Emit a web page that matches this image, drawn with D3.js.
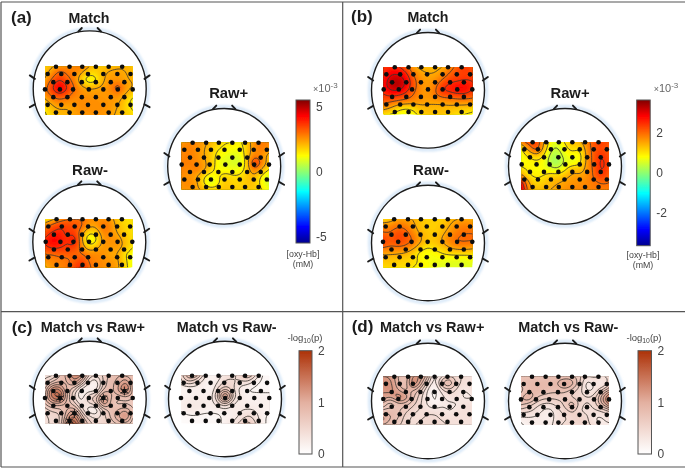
<!DOCTYPE html>
<html>
<head>
<meta charset="utf-8">
<script src="https://cdn.jsdelivr.net/npm/d3@7"></script>
<style>
  html, body { margin: 0; padding: 0; background: #fff; }
  text { font-family: "Liberation Sans", Arial, sans-serif; }
</style>
</head>
<body>
<svg id="fig" width="685" height="470"></svg>
<script>
// value grids, 8 rows by 13 columns
var aMatch = [
  [1.9,2.2,2.6,2.6,2.7,2.9,2.2,1.9,2.0,2.1,2.2,2.2,2.0],
  [2.0,2.6,3.4,2.9,2.8,2.2,1.6,1.7,2.2,2.4,2.4,2.3,2.1],
  [2.4,3.2,3.9,3.2,2.8,1.6,0.9,1.2,2.3,2.5,2.5,2.3,2.2],
  [2.8,3.8,5.0,3.9,3.0,2.5,2.2,2.3,2.4,2.7,3.7,2.5,2.3],
  [2.7,3.3,3.7,3.3,2.8,2.6,2.5,2.5,2.5,2.5,2.7,2.2,1.8],
  [2.0,2.5,2.8,2.6,2.5,2.7,2.6,2.6,2.5,2.5,2.4,1.8,1.2],
  [1.6,2.1,2.3,2.2,2.4,2.7,2.6,2.6,2.6,2.5,2.2,1.8,1.4],
  [1.4,1.9,2.1,2.1,2.4,2.5,2.5,2.6,2.5,2.4,2.1,1.9,1.7]
];
var aRawPlus = [
  [2.5,2.7,2.7,2.4,2.1,1.8,1.5,1.5,1.3,1.9,2.7,2.9,2.7],
  [2.7,2.8,2.6,2.3,1.9,1.5,1.3,1.2,1.1,1.9,2.6,2.9,2.5],
  [2.7,2.8,2.6,2.3,1.9,1.2,1.1,0.8,0.9,1.9,2.8,2.5,2.0],
  [2.8,2.8,2.7,2.4,2.0,1.1,0.8,0.9,0.6,1.8,4.3,2.8,2.0],
  [2.8,2.6,3.0,2.5,1.9,1.1,1.2,1.0,1.1,1.8,3.0,2.2,1.6],
  [2.6,2.5,2.3,1.6,1.0,1.5,1.8,1.6,1.6,1.9,2.2,1.3,0.7],
  [2.6,2.7,2.5,1.4,0.5,1.3,2.0,1.7,1.7,2.0,2.0,1.2,0.7],
  [2.5,2.6,2.4,2.1,1.7,1.9,2.0,1.9,1.8,1.9,1.9,1.5,1.1]
];
var aRawMinus = [
  [1.6,2.2,2.7,3.0,3.0,3.0,2.6,2.5,2.6,2.5,1.9,1.6,1.6],
  [3.0,3.4,3.8,3.6,3.4,3.2,2.4,2.4,3.2,2.7,2.0,1.7,1.6],
  [3.4,3.9,4.0,3.5,3.7,2.4,1.4,1.6,2.8,2.6,2.2,1.8,1.6],
  [4.0,4.6,4.2,3.7,4.5,2.2,0.7,1.2,2.6,2.6,2.6,2.0,1.7],
  [3.7,4.1,3.9,3.6,3.7,2.7,1.6,2.0,2.6,2.4,2.6,2.1,1.6],
  [3.0,3.0,3.2,3.3,3.0,3.0,2.7,2.7,2.6,2.2,2.3,1.4,1.2],
  [2.6,2.7,2.8,2.8,3.2,3.6,2.9,2.7,2.6,2.5,2.4,1.6,1.1],
  [2.2,2.6,2.7,2.9,3.5,4.0,3.0,2.8,2.6,2.6,2.4,1.7,1.1]
];
var bMatch = [
  [2.5,2.6,2.6,2.2,1.6,1.4,1.4,1.4,1.5,1.8,2.2,2.5,2.2],
  [2.6,3.0,3.0,2.7,1.9,1.6,1.5,1.5,1.7,2.1,2.3,2.4,2.3],
  [2.8,3.3,3.4,3.0,2.2,1.7,1.6,1.7,2.1,2.4,2.4,2.5,2.5],
  [2.8,3.3,3.4,2.9,2.2,1.7,1.6,1.9,2.6,2.7,3.0,3.0,2.6],
  [2.5,2.7,2.6,2.4,2.0,1.7,1.6,2.0,2.4,2.4,2.5,2.5,2.3],
  [2.2,2.1,2.0,1.9,1.8,1.7,1.6,1.6,1.6,1.7,1.8,1.8,1.8],
  [1.7,1.5,1.1,1.0,1.1,1.4,1.4,1.4,1.4,1.4,1.3,1.3,1.2],
  [1.1,1.0,0.8,0.7,0.8,1.2,1.3,1.3,1.3,1.2,1.1,1.0,0.9]
];
var bRawPlus = [
  [1.8,2.2,2.5,1.5,0.7,0.6,1.1,1.3,1.4,1.8,2.3,2.4,2.2],
  [0.9,1.7,2.4,1.4,0.5,0.4,0.9,1.2,0.9,1.8,2.2,2.3,2.1],
  [0.8,1.0,1.3,1.0,0.3,0.2,0.7,0.8,0.7,1.7,2.2,2.6,2.2],
  [0.8,0.8,0.9,0.8,0.2,0.1,0.6,0.6,0.8,1.7,2.2,2.7,2.3],
  [1.1,0.9,0.8,0.8,0.6,0.5,0.9,1.5,1.2,1.7,2.1,2.7,2.2],
  [1.5,1.0,0.9,1.0,1.3,1.2,1.4,1.6,1.6,1.7,2.1,2.5,2.1],
  [2.8,1.4,1.1,1.2,1.4,1.5,1.6,1.7,1.7,1.8,1.9,2.0,2.0],
  [3.0,1.6,1.3,1.4,1.5,1.6,1.7,1.8,1.8,1.8,1.9,1.9,1.9]
];
var bRawMinus = [
  [1.2,1.3,1.6,1.6,1.5,1.3,1.2,1.2,1.2,1.4,1.5,1.6,1.5],
  [1.8,1.8,2.0,1.9,1.6,1.3,1.2,1.2,1.3,1.5,1.8,1.9,1.8],
  [2.0,2.0,2.3,2.2,1.8,1.4,1.3,1.2,1.4,1.7,1.9,2.0,2.0],
  [2.5,2.1,2.5,2.2,2.1,1.6,1.3,1.3,1.6,1.9,2.1,2.1,2.1],
  [2.1,2.0,2.0,2.0,1.7,1.3,1.0,1.2,1.3,1.6,1.8,1.8,1.7],
  [1.5,1.5,1.5,1.4,1.2,0.8,0.7,0.8,1.0,1.1,1.1,1.1,1.1],
  [1.3,1.3,1.2,1.2,1.2,0.9,0.8,0.7,0.7,0.6,0.6,0.6,0.7],
  [1.1,1.2,1.1,1.1,1.0,0.9,0.8,0.7,0.6,0.6,0.6,0.6,0.6]
];
var cVsPlus = [
  [0.4,0.4,0.8,0.9,1.45,1.2,0.5,0.4,0.65,0.8,0.9,0.9,0.8],
  [0.5,0.8,0.9,0.8,1.2,0.8,0.25,0.1,0.65,0.9,0.9,1.3,0.8],
  [0.8,1.45,1.45,0.8,0.65,0.1,0.1,0.1,0.8,0.8,1.05,1.7,0.9],
  [0.9,1.55,1.8,0.9,0.4,0.1,0.65,0.65,1.3,0.9,0.8,0.9,0.8],
  [0.8,1.05,1.05,0.8,0.65,0.25,0.5,0.65,1.45,0.8,0.65,0.65,0.65],
  [0.5,0.65,0.65,0.9,1.05,0.5,0.1,0.0,0.65,0.8,0.9,1.05,0.8],
  [0.4,0.5,0.5,1.05,1.55,0.8,0.5,0.4,0.5,0.8,1.05,1.45,0.8],
  [0.4,0.5,0.5,1.3,1.8,1.05,0.65,0.5,0.5,0.65,0.8,0.9,0.65]
];
var cVsMinus = [
  [0.5,0.9,0.9,0.4,0.1,0.2,0.4,0.4,0.5,0.8,0.5,0.1,0.1],
  [0.4,0.6,0.4,0.2,0.1,0.3,0.5,0.5,0.4,0.4,0.2,0.1,0.1],
  [0.1,0.1,0.2,0.2,0.1,0.5,0.7,0.5,0.2,0.1,0.1,0.1,0.1],
  [0.2,0.2,0.2,0.2,0.2,0.6,1.8,0.6,0.3,0.2,0.2,0.2,0.2],
  [0.2,0.3,0.3,0.3,0.2,0.4,0.7,0.3,0.2,0.2,0.2,0.2,0.2],
  [0.2,0.3,0.3,0.2,0.2,0.2,0.2,0.2,0.3,0.3,0.3,0.2,0.2],
  [0.05,0.1,0.1,0.1,0.1,0.1,0.2,0.2,0.3,0.5,0.4,0.2,0.1],
  [0.05,0.1,0.1,0.1,0.1,0.1,0.2,0.3,0.5,0.7,0.5,0.2,0.1]
];
var dVsPlus = [
  [1.2,1.2,0.9,0.65,1.3,1.2,0.8,0.1,0.5,0.65,0.5,0.4,0.4],
  [1.3,1.3,0.9,0.65,1.55,1.05,0.5,0.1,0.9,1.05,0.5,0.4,0.4],
  [1.2,1.3,1.05,0.8,0.9,0.65,0.25,0.0,0.4,0.5,0.4,0.25,0.4],
  [1.2,1.05,1.45,1.3,0.8,0.5,0.25,0.1,0.25,0.4,0.4,0.25,0.25],
  [0.8,0.5,0.8,0.8,0.65,0.5,0.25,0.1,0.25,0.25,0.25,0.4,0.4],
  [0.65,0.9,0.8,0.65,0.5,0.4,0.4,0.4,0.4,0.25,0.4,0.4,0.4],
  [1.2,0.9,0.8,0.5,0.4,0.4,0.5,0.5,0.4,0.4,0.4,0.4,0.4],
  [0.9,0.8,0.65,0.5,0.4,0.5,0.5,0.5,0.5,0.4,0.4,0.4,0.4]
];
var dVsMinus = [
  [0.8,0.8,0.8,0.8,0.8,0.8,0.8,0.8,0.65,0.4,0.5,0.4,0.5],
  [0.8,0.9,0.9,0.9,0.9,0.9,1.2,1.05,0.65,0.1,0.4,0.1,0.5],
  [0.65,0.8,0.9,0.9,0.8,0.8,0.8,0.65,0.5,0.25,0.25,0.65,0.9],
  [0.9,1.2,0.8,0.65,0.65,0.65,0.65,0.5,0.5,0.5,0.5,1.05,1.5],
  [0.8,0.65,0.5,0.4,0.4,0.5,0.65,1.05,0.5,0.4,0.5,0.9,1.3],
  [0.5,0.5,0.4,0.25,0.2,0.4,0.5,0.65,0.4,0.4,0.4,0.4,0.5],
  [0.25,0.25,0.25,0.25,0.2,0.4,0.4,0.5,0.65,0.5,0.25,0.25,0.4],
  [0.1,0.25,0.25,0.25,0.25,0.4,0.5,0.5,0.5,0.5,0.4,0.25,0.25]
];

// channel layout, as fractions of the map box
var channelRowY = [0, 0.15, 0.32, 0.47, 0.63, 0.79, 0.95];
var channelRowX = [
  [0.125, 0.28, 0.425, 0.58, 0.726, 0.88],
  [0.03, 0.186, 0.335, 0.49, 0.665, 0.825, 0.975],
  [0.095, 0.255, 0.42, 0.58, 0.75, 0.905],
  [0, 0.17, 0.32, 0.5, 0.665, 0.83, 1],
  [0.095, 0.255, 0.42, 0.58, 0.75, 0.905],
  [0.03, 0.186, 0.335, 0.49, 0.665, 0.825, 0.975],
  [0.125, 0.28, 0.425, 0.58, 0.726, 0.88]
];
// significant channels in Match vs Raw+ of (c), as [row, index]
var starChannels = [[3, 1], [5, 2], [6, 1], [3, 4], [2, 5]];

// nubs on the head outline, in head units
var headNubs = [
  [-0.2, -0.99, -0.14, -1.05], [0.2, -0.99, 0.14, -1.05],
  [-0.97, -0.17, -1.06, -0.23], [0.97, -0.17, 1.06, -0.23],
  [-0.97, 0.27, -1.06, 0.32], [0.97, 0.27, 1.06, 0.32]
];

var thresholdStepA = 0.75, thresholdStepB = 0.5, thresholdStepP = 0.15;

var jetMaxA = 5.5, jetMaxB = 3.65, logMax = 2;
var jetStops = [-1, -0.78, -0.28, 0.22, 0.78, 1];
var jetColors = ['#00008f', '#0000ff', '#00ffff', '#ffff00', '#ff0000', '#800000'];
var logColors = ['#ffffff', '#e3b0a0', '#ad3208'];

function jetScale(max) {
  return d3.scaleLinear().domain(jetStops.map(function(d) { return d * max; })).range(jetColors).clamp(true);
}
var colorA = jetScale(jetMaxA),
    colorB = jetScale(jetMaxB),
    colorP = d3.scaleLinear().domain([0, 1, logMax]).range(logColors).clamp(true);

var maps = [
  {id: 'am', values: aMatch,    cx: 89.7,  cy: 88.7,  box: [45, 66.7, 132.7, 115],      color: colorA, step: thresholdStepA},
  {id: 'ap', values: aRawPlus,  cx: 224.2, cy: 166.3, box: [181.7, 142.7, 269, 189.3],  color: colorA, step: thresholdStepA},
  {id: 'an', values: aRawMinus, cx: 89.3,  cy: 242,   box: [45.7, 219.3, 132.3, 267.3], color: colorA, step: thresholdStepA},
  {id: 'bm', values: bMatch,    cx: 428,   cy: 90.3,  box: [383.7, 67.3, 472.3, 114.3], color: colorB, step: thresholdStepB},
  {id: 'bp', values: bRawPlus,  cx: 565,   cy: 166.3, box: [521.7, 142.3, 609, 189.3],  color: colorB, step: thresholdStepB},
  {id: 'bn', values: bRawMinus, cx: 428,   cy: 243,   box: [383, 219.3, 472.3, 267.3],  color: colorB, step: thresholdStepB},
  {id: 'cp', values: cVsPlus,   cx: 89.7,  cy: 399,   box: [45, 375.7, 132.7, 423.3],   color: colorP, step: thresholdStepP, stars: starChannels},
  {id: 'cn', values: cVsMinus,  cx: 225,   cy: 399,   box: [181, 375.7, 269.3, 423.3],  color: colorP, step: thresholdStepP},
  {id: 'dp', values: dVsPlus,   cx: 428,   cy: 401,   box: [383.3, 376.7, 471.7, 424.3], color: colorP, step: thresholdStepP},
  {id: 'dn', values: dVsMinus,  cx: 565,   cy: 401,   box: [521, 376.7, 609, 425],      color: colorP, step: thresholdStepP}
];

var titles = [
  {text: 'Match', x: 89, y: 23, size: 14.2, anchor: 'middle'},
  {text: 'Raw+', x: 228.7, y: 98, size: 14.8, anchor: 'middle'},
  {text: 'Raw-', x: 90, y: 175, size: 15, anchor: 'middle'},
  {text: 'Match', x: 428, y: 22, size: 14.2, anchor: 'middle'},
  {text: 'Raw+', x: 570, y: 98, size: 14.8, anchor: 'middle'},
  {text: 'Raw-', x: 431, y: 175, size: 15, anchor: 'middle'},
  {text: 'Match vs Raw+', x: 40.7, y: 332, size: 14.5, anchor: 'start'},
  {text: 'Match vs Raw-', x: 176.7, y: 332, size: 14.4, anchor: 'start'},
  {text: 'Match vs Raw+', x: 380, y: 332, size: 14.5, anchor: 'start'},
  {text: 'Match vs Raw-', x: 518.3, y: 332, size: 14.4, anchor: 'start'},
  {text: '(a)', x: 11, y: 23, size: 17, anchor: 'start'},
  {text: '(b)', x: 351, y: 22, size: 17, anchor: 'start'},
  {text: '(c)', x: 11.7, y: 332.5, size: 17, anchor: 'start'},
  {text: '(d)', x: 351.7, y: 332, size: 17, anchor: 'start'}
];

var bars = [
  {id: 'ba', color: colorA, max: jetMaxA, min: -jetMaxA, ticks: [-5, 0, 5], x: 296, w: 14, y0: 243, y1: 100, stops: jetStops.map(function(d) { return d * jetMaxA; }), labelY: 254, units: true, labelX: 303},
  {id: 'bb', color: colorB, max: jetMaxB, min: -jetMaxB, ticks: [-2, 0, 2], x: 636.7, w: 13.5, y0: 245.7, y1: 100, stops: jetStops.map(function(d) { return d * jetMaxB; }), labelY: 255, units: true, labelX: 643},
  {id: 'bc', color: colorP, max: logMax, min: 0, ticks: [0, 1, 2], x: 299, w: 13, y0: 454, y1: 350.7, stops: [0, 1, 2], labelY: 338, labelX: 305},
  {id: 'bd', color: colorP, max: logMax, min: 0, ticks: [0, 1, 2], x: 638, w: 13.5, y0: 454, y1: 350.7, stops: [0, 1, 2], labelY: 338, labelX: 644}
];

var svg = d3.select('#fig');
var defs = svg.append('defs');
defs.append('filter').attr('id', 'soft')
    .attr('filterUnits', 'userSpaceOnUse').attr('x', 0).attr('y', 0).attr('width', 685).attr('height', 470)
  .append('feGaussianBlur').attr('stdDeviation', 0.45);
defs.append('filter').attr('id', 'halo')
    .attr('x', '-10%').attr('y', '-10%').attr('width', '120%').attr('height', '120%')
  .append('feGaussianBlur').attr('stdDeviation', 1.2);

var root = svg.append('g').attr('filter', 'url(#soft)');
root.append('rect').attr('width', 685).attr('height', 470).attr('fill', '#fff');

// basis spline through the read values, so the contours come out round like the topo maps
function resample(grid, k) {
  var rows = grid.map(function(row) {
    var f = d3.interpolateBasis(row), n = (row.length - 1) * k + 1;
    return d3.range(n).map(function(i) { return f(i / (n - 1)); });
  });
  var out = [], n = (grid.length - 1) * k + 1, w = rows[0].length;
  d3.range(n).forEach(function() { out.push(new Array(w)); });
  d3.range(w).forEach(function(c) {
    var f = d3.interpolateBasis(rows.map(function(r) { return r[c]; }));
    d3.range(n).forEach(function(i) { out[i][c] = f(i / (n - 1)); });
  });
  return out;
}

function drawMap(m) {
  var fine = resample(m.values, 4),
      nx = fine[0].length, ny = fine.length,
      flat = d3.merge(fine),
      x = d3.scaleLinear().domain([0.5, nx - 0.5]).range([m.box[0], m.box[2]]),
      y = d3.scaleLinear().domain([0.5, ny - 0.5]).range([m.box[1], m.box[3]]),
      headX = d3.scaleLinear().domain([-1, 1]).range([m.cx - 56.5, m.cx + 56.5]),
      headY = d3.scaleLinear().domain([-1, 1]).range([m.cy - 57.8, m.cy + 57.8]),
      boxX = d3.scaleLinear().domain([0, 1]).range([m.box[0], m.box[2]]),
      boxY = d3.scaleLinear().domain([0, 1]).range([m.box[1], m.box[3]]),
      path = d3.geoPath(d3.geoTransform({
        point: function(a, b) { this.stream.point(x(a), y(b)); }
      })),
      g = root.append('g');

  defs.append('clipPath').attr('id', 'clip-' + m.id)
    .append('rect')
    .attr('x', m.box[0]).attr('y', m.box[1])
    .attr('width', m.box[2] - m.box[0]).attr('height', m.box[3] - m.box[1]);

  g.append('ellipse')
    .attr('cx', m.cx).attr('cy', m.cy).attr('rx', 58.5).attr('ry', 59.8)
    .attr('fill', 'none').attr('stroke', '#d8e8f8').attr('stroke-width', 3)
    .attr('filter', 'url(#halo)');
  g.append('ellipse')
    .attr('cx', m.cx).attr('cy', m.cy).attr('rx', 56.5).attr('ry', 57.8)
    .attr('fill', '#fff').attr('stroke', '#1c1c1c').attr('stroke-width', 1.4);

  g.selectAll('.nub').data(headNubs).enter().append('line')
    .attr('class', 'nub')
    .attr('x1', function(d) { return headX(d[0]); })
    .attr('y1', function(d) { return headY(d[1]); })
    .attr('x2', function(d) { return headX(d[2]); })
    .attr('y2', function(d) { return headY(d[3]); })
    .attr('stroke', '#1c1c1c').attr('stroke-width', 1.9).attr('stroke-linecap', 'round');

  var inner = g.append('g').attr('clip-path', 'url(#clip-' + m.id + ')');

  var low = d3.min(flat) - 0.01,
      fillLevels = d3.range(low, d3.max(flat), 0.03 * (m.step / 0.5) + 0.01),
      contours = d3.contours().size([nx, ny]);

  inner.selectAll('.band').data(contours.thresholds(fillLevels)(flat)).enter().append('path')
    .attr('class', 'band')
    .attr('d', path)
    .attr('fill', function(d) { return m.color(d.value); });

  var lineLevels = d3.range(Math.ceil(d3.min(flat) / m.step) * m.step, d3.max(flat), m.step);
  inner.selectAll('.iso').data(contours.thresholds(lineLevels)(flat)).enter().append('path')
    .attr('class', 'iso')
    .attr('d', path)
    .attr('fill', 'none')
    .attr('stroke', '#3a3530').attr('stroke-width', 0.9).attr('stroke-opacity', 0.9);

  var channels = [];
  channelRowX.forEach(function(row, i) {
    row.forEach(function(v, j) { channels.push({x: v, y: channelRowY[i], row: i, idx: j}); });
  });
  g.selectAll('.channel').data(channels).enter().append('circle')
    .attr('class', 'channel')
    .attr('cx', function(d) { return boxX(d.x); })
    .attr('cy', function(d) { return boxY(d.y); })
    .attr('r', 2.3)
    .attr('fill', '#0c0c0c');

  if (m.stars) {
    g.selectAll('.star').data(m.stars).enter().append('path')
      .attr('class', 'star')
      .attr('d', d3.symbol(d3.symbolAsterisk, 55))
      .attr('transform', function(d) {
        return 'translate(' + boxX(channelRowX[d[0]][d[1]]) + ',' + boxY(channelRowY[d[0]]) + ')';
      })
      .attr('fill', 'none').attr('stroke', '#111').attr('stroke-width', 0.9);
  }
}

function drawBar(b) {
  var y = d3.scaleLinear().domain([b.min, b.max]).range([b.y0, b.y1]),
      grad = defs.append('linearGradient').attr('id', 'grad-' + b.id)
        .attr('x1', 0).attr('x2', 0).attr('y1', 1).attr('y2', 0);

  grad.selectAll('stop').data(b.stops).enter().append('stop')
    .attr('offset', function(d) { return (d - b.min) / (b.max - b.min); })
    .attr('stop-color', function(d) { return b.color(d); });

  root.append('rect')
    .attr('x', b.x).attr('y', b.y1).attr('width', b.w).attr('height', b.y0 - b.y1)
    .attr('fill', 'url(#grad-' + b.id + ')')
    .attr('stroke', '#555').attr('stroke-width', 1);

  var axis = root.append('g')
    .attr('transform', 'translate(' + (b.x + b.w) + ',0)')
    .call(d3.axisRight(y).tickValues(b.ticks).tickSize(0).tickPadding(6).tickFormat(String));
  axis.select('.domain').remove();
  axis.selectAll('text')
    .style('font-family', '"Liberation Sans", Arial, sans-serif')
    .style('font-size', '12px').attr('fill', '#444');

  if (b.units) {
    var u = root.append('text').attr('x', b.x + 17).attr('y', 92).attr('fill', '#666').attr('font-size', 11);
    u.append('tspan').text('\u00d7').attr('font-size', 9);
    u.append('tspan').text('10');
    u.append('tspan').text('-3').attr('dy', -4).attr('font-size', 8);
    root.append('text').attr('x', b.labelX).attr('y', b.labelY + 3).attr('text-anchor', 'middle')
      .attr('font-size', 8.8).attr('fill', '#444').text('[oxy-Hb]');
    root.append('text').attr('x', b.labelX).attr('y', b.labelY + 13).attr('text-anchor', 'middle')
      .attr('font-size', 8.8).attr('fill', '#444').text('(mM)');
  } else {
    var t = root.append('text').attr('x', b.labelX).attr('y', b.labelY + 3).attr('text-anchor', 'middle')
      .attr('font-size', 9.5).attr('fill', '#444');
    t.append('tspan').text('-log');
    t.append('tspan').text('10').attr('font-size', 6.8).attr('dy', 2);
    t.append('tspan').text('(p)').attr('dy', -2);
  }
}

maps.forEach(drawMap);
bars.forEach(drawBar);

root.selectAll('.title').data(titles).enter().append('text')
  .attr('class', 'title')
  .attr('x', function(d) { return d.x; })
  .attr('y', function(d) { return d.y; })
  .attr('text-anchor', function(d) { return d.anchor; })
  .attr('font-size', function(d) { return d.size; })
  .attr('font-weight', 'bold')
  .attr('fill', '#1c1c1c')
  .text(function(d) { return d.text; });

// panel frame, open on the right
var frame = root.append('g').attr('stroke', '#555').attr('stroke-width', 1.2).attr('fill', 'none');
frame.append('line').attr('x1', 1).attr('x2', 685).attr('y1', 2).attr('y2', 2);
frame.append('line').attr('x1', 1).attr('x2', 685).attr('y1', 467).attr('y2', 467);
frame.append('line').attr('x1', 1).attr('x2', 1).attr('y1', 2).attr('y2', 467);
frame.append('line').attr('x1', 342.7).attr('x2', 342.7).attr('y1', 2).attr('y2', 467);
frame.append('line').attr('x1', 1).attr('x2', 685).attr('y1', 311.7).attr('y2', 311.7);
</script>
</body>
</html>
